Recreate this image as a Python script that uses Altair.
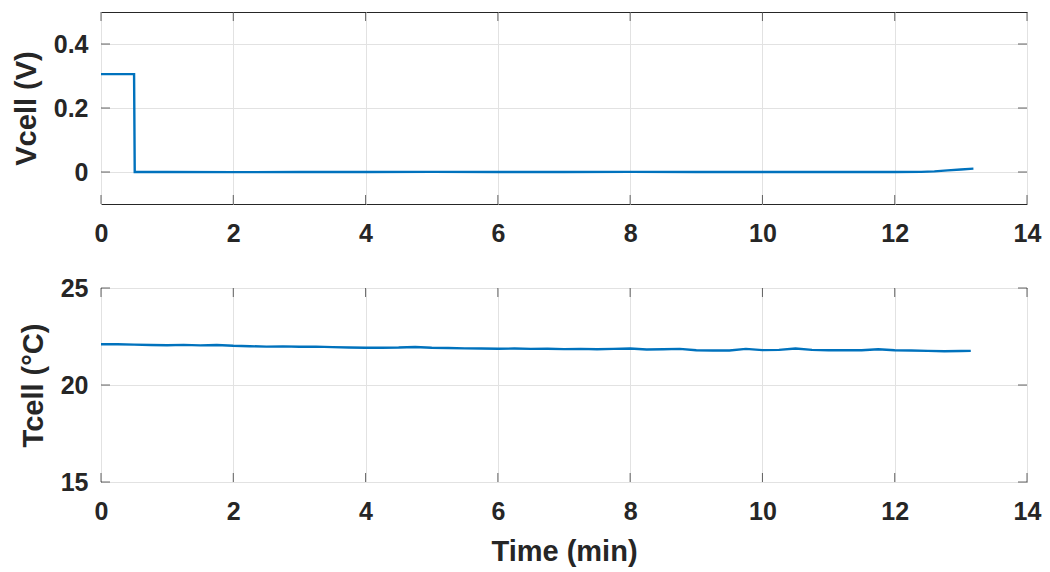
import altair as alt
import pandas as pd

# ---- data ----
time_v = [0.0, 0.50, 0.51, 1.0, 2.0, 3.0, 4.0, 5.0, 6.0, 7.0, 8.0, 9.0, 10.0, 11.0,
          12.0, 12.4, 12.6, 12.8, 13.0, 13.19]
vcell = [0.306, 0.306, 0.0, 0.0, -0.0005, 0.0, 0.0, 0.0005, 0.0, 0.0, 0.0005, 0.0, 0.0, 0.0,
         0.0, 0.0005, 0.002, 0.005, 0.008, 0.0105]

time_t = [0.0, 0.25, 0.5, 0.75, 1.0, 1.25, 1.5, 1.75, 2.0, 2.25, 2.5, 2.75, 3.0, 3.25,
          3.5, 3.75, 4.0, 4.25, 4.5, 4.75, 5.0, 5.25, 5.5, 5.75, 6.0, 6.25, 6.5, 6.75,
          7.0, 7.25, 7.5, 7.75, 8.0, 8.25, 8.5, 8.75, 9.0, 9.25, 9.5, 9.75, 10.0, 10.25,
          10.5, 10.75, 11.0, 11.25, 11.5, 11.75, 12.0, 12.25, 12.5, 12.75, 13.0, 13.15]
tcell = [22.10, 22.10, 22.08, 22.06, 22.05, 22.07, 22.04, 22.06, 22.02, 22.00, 21.98, 21.99,
         21.97, 21.98, 21.95, 21.93, 21.92, 21.92, 21.93, 21.96, 21.92, 21.91, 21.89, 21.88,
         21.87, 21.88, 21.86, 21.87, 21.85, 21.86, 21.84, 21.86, 21.88, 21.83, 21.84, 21.86,
         21.79, 21.78, 21.78, 21.86, 21.80, 21.81, 21.88, 21.81, 21.79, 21.79, 21.79, 21.84,
         21.79, 21.78, 21.76, 21.74, 21.75, 21.76]

x_ticks = [0, 2, 4, 6, 8, 10, 12, 14]
v_ticks = [0, 0.2, 0.4]
t_ticks = [15, 20, 25]
x_domain = [0, 14]
v_domain = [-0.1, 0.5]
t_domain = [15, 25]

FONT = "Liberation Sans"
BLUE = "#0072BD"
AX = "#262626"
GRID = "#e2e2e2"
TICK = 9


def panel(df, field, ydom, yticks, ytitle, xtitle, height):
    xs = alt.Scale(domain=x_domain, nice=False, zero=False)
    ys = alt.Scale(domain=ydom, nice=False, zero=False)
    xaxis = alt.Axis(values=x_ticks, title=xtitle, grid=True, ticks=False, domain=False,
                     labelPadding=17, titlePadding=13, format="~g", labelFlush=False)
    yaxis = alt.Axis(values=yticks, title=ytitle, grid=True, ticks=False, domain=False,
                     labelPadding=13, titlePadding=12, format="~g")
    line = alt.Chart(df).mark_line(color=BLUE, strokeWidth=2.4, clip=True).encode(
        x=alt.X("t:Q", scale=xs, axis=xaxis),
        y=alt.Y(field + ":Q", scale=ys, axis=yaxis),
    )
    xt = pd.DataFrame({"t": x_ticks})
    yt = pd.DataFrame({field: yticks})
    tick_style = dict(size=TICK, thickness=1, color=AX)
    bot = alt.Chart(xt).mark_tick(orient="vertical", yOffset=-TICK / 2, **tick_style).encode(
        x=alt.X("t:Q", scale=xs), y=alt.datum(ydom[0]))
    top = alt.Chart(xt).mark_tick(orient="vertical", yOffset=TICK / 2, **tick_style).encode(
        x=alt.X("t:Q", scale=xs), y=alt.datum(ydom[1]))
    lef = alt.Chart(yt).mark_tick(orient="horizontal", xOffset=TICK / 2, **tick_style).encode(
        y=alt.Y(field + ":Q", scale=ys), x=alt.datum(x_domain[0]))
    rig = alt.Chart(yt).mark_tick(orient="horizontal", xOffset=-TICK / 2, **tick_style).encode(
        y=alt.Y(field + ":Q", scale=ys), x=alt.datum(x_domain[1]))
    return alt.layer(line, bot, top, lef, rig).properties(width=926, height=height)


df_v = pd.DataFrame({"t": time_v, "v": vcell})
df_t = pd.DataFrame({"t": time_t, "T": tcell})

p1 = panel(df_v, "v", v_domain, v_ticks, "Vcell (V)", None, 192)
p2 = panel(df_t, "T", t_domain, t_ticks, "Tcell (°C)", "Time (min)", 194)

chart = alt.vconcat(p1, p2, spacing=84, bounds="flush").properties(
    padding={"left": 3, "top": 3, "right": 0, "bottom": 0}
).configure_axis(
    labelFont=FONT, labelFontSize=25, labelFontWeight="bold", labelColor=AX,
    titleFont=FONT, titleFontSize=29, titleFontWeight="bold", titleColor=AX,
    gridColor=GRID, gridWidth=1,
).configure_view(stroke=AX, strokeWidth=1)

chart.save("out.html", embed_options={"renderer": "svg", "actions": False})
